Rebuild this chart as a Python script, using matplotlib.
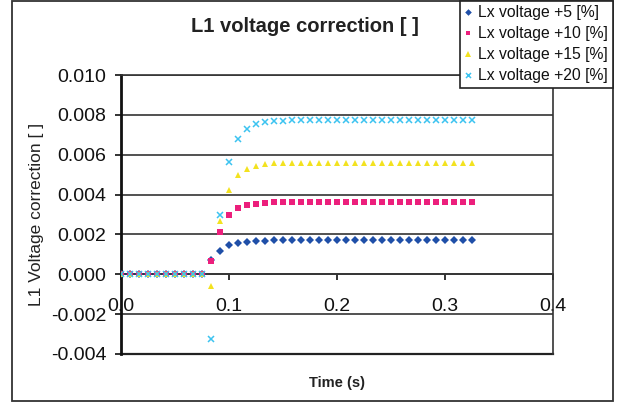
import matplotlib
matplotlib.use("Agg")
import matplotlib.pyplot as plt
from matplotlib.ticker import FixedLocator, FormatStrFormatter
from matplotlib.lines import Line2D
from matplotlib.patches import Rectangle

plt.rcParams['font.family'] = ['Liberation Sans', 'DejaVu Sans']

# ---- data ----
time_s = [0.0, 0.00833, 0.01667, 0.025, 0.03333, 0.04167, 0.05, 0.05833, 0.06667, 0.075,
          0.08333, 0.09167, 0.1, 0.10833, 0.11667, 0.125, 0.13333, 0.14167, 0.15, 0.15833,
          0.16667, 0.175, 0.18333, 0.19167, 0.2, 0.20833, 0.21667, 0.225, 0.23333, 0.24167,
          0.25, 0.25833, 0.26667, 0.275, 0.28333, 0.29167, 0.3, 0.30833, 0.31667, 0.325]

v_plus5 = [0, 0, 0, 0, 0, 0, 0, 0, 0, 0,
           0.0007, 0.00117, 0.00148, 0.00159, 0.00164, 0.00167, 0.00169, 0.0017, 0.00171, 0.00171,
           0.00171, 0.00171, 0.00171, 0.00171, 0.00171, 0.00171, 0.00171, 0.00171, 0.00171, 0.00171,
           0.00171, 0.00171, 0.00171, 0.00171, 0.00171, 0.00171, 0.00171, 0.00171, 0.00171, 0.00171]

v_plus10 = [0, 0, 0, 0, 0, 0, 0, 0, 0, 0,
            0.00065, 0.0021, 0.00295, 0.00333, 0.00347, 0.00355, 0.00359, 0.00361, 0.00362, 0.00362,
            0.00362, 0.00362, 0.00362, 0.00362, 0.00362, 0.00362, 0.00362, 0.00362, 0.00362, 0.00362,
            0.00362, 0.00362, 0.00362, 0.00362, 0.00362, 0.00362, 0.00362, 0.00362, 0.00362, 0.00362]

v_plus15 = [0, 0, 0, 0, 0, 0, 0, 0, 0, 0,
            -0.0006, 0.00267, 0.00423, 0.00497, 0.00528, 0.00543, 0.00552, 0.00557, 0.00559, 0.0056,
            0.0056, 0.0056, 0.0056, 0.0056, 0.0056, 0.0056, 0.0056, 0.0056, 0.0056, 0.0056,
            0.0056, 0.0056, 0.0056, 0.0056, 0.0056, 0.0056, 0.0056, 0.0056, 0.0056, 0.0056]

v_plus20 = [0, 0, 0, 0, 0, 0, 0, 0, 0, 0,
            -0.00327, 0.00299, 0.00565, 0.00678, 0.00728, 0.00753, 0.00763, 0.00768, 0.0077, 0.00772,
            0.00772, 0.00772, 0.00772, 0.00772, 0.00772, 0.00772, 0.00772, 0.00772, 0.00772, 0.00772,
            0.00772, 0.00772, 0.00772, 0.00772, 0.00772, 0.00772, 0.00772, 0.00772, 0.00772, 0.00772]

series_labels = ["Lx voltage +5 [%]", "Lx voltage +10 [%]", "Lx voltage +15 [%]", "Lx voltage +20 [%]"]
x_ticks = [0.0, 0.1, 0.2, 0.3, 0.4]
y_ticks = [-0.004, -0.002, 0.0, 0.002, 0.004, 0.006, 0.008, 0.010]

# ---- styling ----
colors = ["#1f4fa8", "#ec1f7c", "#f3e21f", "#3cc3f0"]
markers = ["D", "s", "^", "x"]
msizes = [4.2, 4.2, 5.0, 4.5]

W, H = 626, 405
fig = plt.figure(figsize=(W / 100, H / 100), dpi=100)
fig.patch.set_facecolor("white")

ax = fig.add_axes([121 / W, 1 - 354 / H, (553 - 121) / W, (354 - 75) / H])

series = [v_plus5, v_plus10, v_plus15, v_plus20]
handles = []
for vals, c, m, ms, lab in zip(series, colors, markers, msizes, series_labels):
    kw = dict(color=c, markeredgewidth=1.1) if m == "x" else dict(color=c, markeredgewidth=0)
    ax.plot(time_s, vals, linestyle="none", marker=m, markersize=ms, zorder=3, **kw)
    handles.append(Line2D([], [], linestyle="none", marker=m, markersize=ms * 0.8,
                          label=lab, **kw))

ax.set_xlim(x_ticks[0], x_ticks[-1])
ax.set_ylim(y_ticks[0], y_ticks[-1])

ax.yaxis.set_major_locator(FixedLocator(y_ticks))
ax.yaxis.set_major_formatter(FormatStrFormatter("%.3f"))
ax.xaxis.set_major_locator(FixedLocator(x_ticks))
ax.xaxis.set_major_formatter(FormatStrFormatter("%.1f"))

ax.grid(axis="y", color="#333333", linewidth=1.2, zorder=1)
ax.set_axisbelow(True)

for s in ["top", "right"]:
    ax.spines[s].set_color("#333333")
    ax.spines[s].set_linewidth(1.2)
ax.spines["left"].set_color("#111111")
ax.spines["left"].set_linewidth(2.0)
ax.spines["bottom"].set_position(("data", 0.0))
ax.spines["bottom"].set_color("#333333")
ax.spines["bottom"].set_linewidth(1.2)
ax.axhline(y_ticks[0], color="#222222", linewidth=1.6, zorder=2, clip_on=False)

ax.tick_params(axis="y", direction="out", length=4, width=1.2, pad=6.5,
               labelsize=14, colors="#111111")
ax.tick_params(axis="x", direction="out", length=4, width=1.2, pad=13,
               labelsize=14, colors="#111111")

ax.set_xlabel("Time (s)", fontsize=10.5, fontweight="bold", color="#222222")
ax.xaxis.set_label_coords(0.5, (354 - 376) / (354 - 75), transform=ax.transAxes)
ax.set_ylabel("L1 Voltage correction [ ]", fontsize=12.5, color="#222222")
ax.yaxis.set_label_coords((44 - 121) / (553 - 121), 0.5)

fig.text(305 / W, 1 - 27 / H, "L1 voltage correction [ ]", ha="center", va="center",
         fontsize=14.5, fontweight="bold", color="#222222")

# outer chart frame
fig.patches.append(Rectangle((11.5 / W, 1 - 400.5 / H), (612.5 - 11.5) / W, (400.5 - 1) / H,
                             transform=fig.transFigure, fill=False, edgecolor="#333333",
                             linewidth=1.3, zorder=0))

leg = fig.legend(handles=handles, loc="upper right",
                 bbox_to_anchor=(612.5 / W, 1 - 0.5 / H), bbox_transform=fig.transFigure,
                 borderaxespad=0, fontsize=11.3, frameon=True, fancybox=False,
                 edgecolor="#222222", framealpha=1, handlelength=0.45, handletextpad=0.4,
                 labelspacing=0.38, borderpad=0.3)
leg.get_frame().set_linewidth(1.2)
for t in leg.get_texts():
    t.set_color("#111111")

fig.savefig("out.png", dpi=100, facecolor="white")
